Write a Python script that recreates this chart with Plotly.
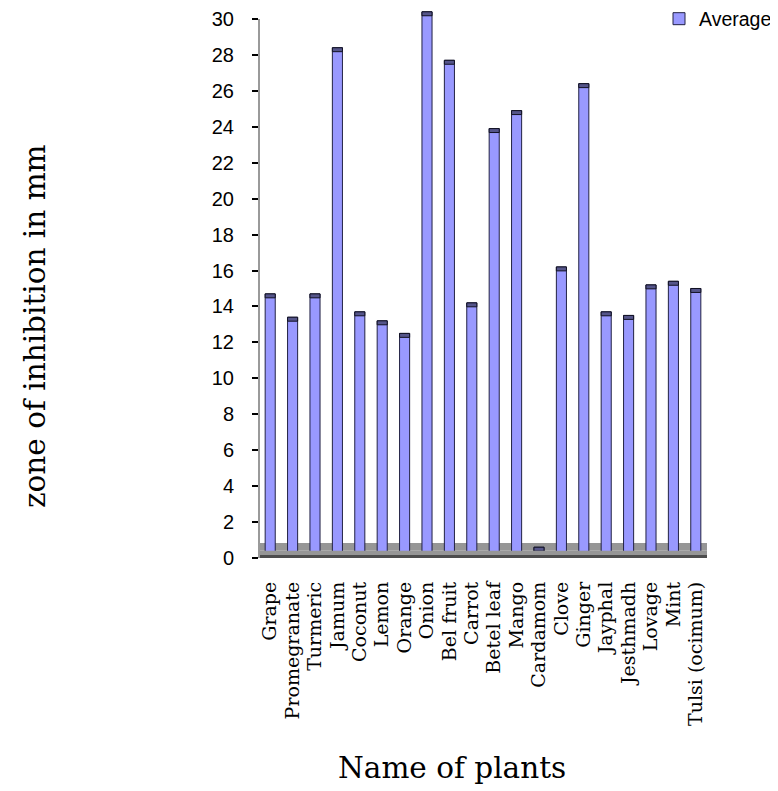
import plotly.graph_objects as go

plants = ["Grape", "Promegranate", "Turmeric", "Jamum", "Coconut", "Lemon", "Orange",
          "Onion", "Bel fruit", "Carrot", "Betel leaf", "Mango", "Cardamom", "Clove",
          "Ginger", "Jayphal", "Jesthmadh", "Lovage", "Mint", "Tulsi (ocimum)"]
average = [14.7, 13.4, 14.7, 28.4, 13.7, 13.2, 12.5, 30.4, 27.7, 14.2,
           23.9, 24.9, 0.6, 16.2, 26.4, 13.7, 13.5, 15.2, 15.4, 15.0]
y_ticks = list(range(0, 31, 2))

serif = "DejaVu Serif"
sans = "Liberation Sans, Arial"

# the page shows the figure offset by the browser's 8px body margin
OFF = 8
W, H = 778 - OFF, 791 - OFF
PLOT_L, PLOT_R, PLOT_B = 259, 707, 558        # page pixels
Y_TOP = 30.5
PX_PER_UNIT = (558 - 19) / 30
plot_top = PLOT_B - Y_TOP * PX_PER_UNIT
L, R, T, B = PLOT_L - OFF, 778 - PLOT_R, plot_top - OFF, 791 - PLOT_B
PW, PH = PLOT_R - PLOT_L, PLOT_B - plot_top


def px_x(page_x):
    return (page_x - PLOT_L) / PW


def px_y(page_y):
    return (PLOT_B - page_y) / PH


fig = go.Figure()
fig.add_trace(go.Bar(
    x=plants, y=average, name="Average",
    marker=dict(color="#9999FF", line=dict(color="#222244", width=1)),
    width=0.45,
))
# darker top cap of each column (3D look)
cap = 0.22
fig.add_trace(go.Bar(
    x=plants, y=[cap] * len(average), base=[v - cap for v in average],
    marker=dict(color="#55558a", line=dict(color="#111122", width=1)),
    width=0.45, showlegend=False, hoverinfo="skip",
))

# 3D-style floor
fig.add_shape(type="rect", xref="paper", yref="y", x0=0, x1=1, y0=0.4, y1=0.83,
              fillcolor="#969696", line=dict(width=0), layer="below")
fig.add_shape(type="rect", xref="paper", yref="y", x0=0, x1=1, y0=0.17, y1=0.4,
              fillcolor="#969696", line=dict(width=0), layer="above")
fig.add_shape(type="rect", xref="paper", yref="y", x0=0, x1=1, y0=0, y1=0.17,
              fillcolor="#4d4d4d", line=dict(width=0), layer="above")
# back-wall edge (value axis line, up to the top tick only)
fig.add_shape(type="line", xref="paper", yref="y", x0=0, x1=0, y0=0, y1=y_ticks[-1],
              line=dict(color="#9a9a9a", width=2), layer="above")

fig.update_layout(
    width=W, height=H,
    margin=dict(l=L, r=R, t=T, b=B, autoexpand=False),
    paper_bgcolor="white", plot_bgcolor="white",
    showlegend=True, barmode="overlay",
    legend=dict(xref="container", yref="container",
                x=(659 - OFF) / W, y=1 - (19 - OFF) / H, xanchor="left", yanchor="middle",
                font=dict(family=sans, size=19.5, color="black"),
                bgcolor="rgba(0,0,0,0)", itemwidth=30),
    xaxis=dict(
        tickmode="array", tickvals=plants, ticktext=plants,
        tickangle=-90, tickfont=dict(family=serif, size=19, color="black"),
        showline=False, showgrid=False, ticks="", ticklabelstandoff=19,
        range=[-0.5, 19.5], ticklabeloverflow="allow",
    ),
    yaxis=dict(
        range=[0, Y_TOP], tickvals=y_ticks, ticktext=[str(v) for v in y_ticks],
        tickfont=dict(family=sans, size=20, color="black"),
        showline=False,
        ticks="outside", ticklen=6, tickcolor="black", tickwidth=2,
        showgrid=False, zeroline=False, ticklabelstandoff=14,
        ticklabeloverflow="allow",
    ),
    annotations=[
        dict(text="zone of inhibition in mm", xref="paper", yref="paper",
             x=px_x(35), y=px_y(326), textangle=-90,
             showarrow=False, font=dict(family=serif, size=29.5, color="black"),
             xanchor="center", yanchor="middle"),
        dict(text="Name of plants", xref="paper", yref="paper",
             x=px_x(568), y=px_y(768),
             showarrow=False, font=dict(family=serif, size=29.5, color="black"),
             xanchor="right", yanchor="middle"),
    ],
)

fig.write_html("out.html")
